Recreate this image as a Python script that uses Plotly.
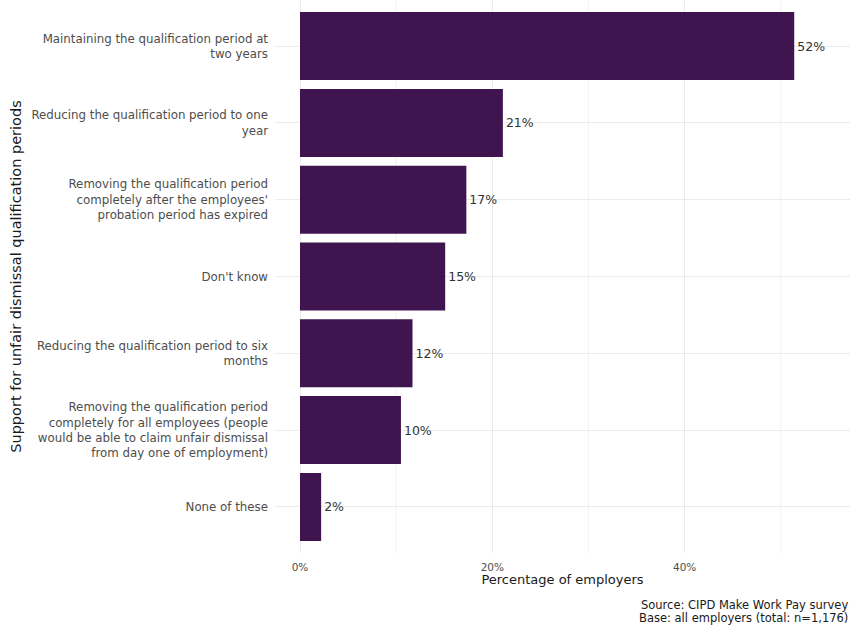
import plotly.graph_objects as go

categories = [
    "Maintaining the qualification period at<br>two years",
    "Reducing the qualification period to one<br>year",
    "Removing the qualification period<br>completely after the employees'<br>probation period has expired",
    "Don't know",
    "Reducing the qualification period to six<br>months",
    "Removing the qualification period<br>completely for all employees (people<br>would be able to claim unfair dismissal<br>from day one of employment)",
    "None of these",
]
values = [51.4, 21.1, 17.3, 15.1, 11.7, 10.5, 2.2]
value_labels = ["52%", "21%", "17%", "15%", "12%", "10%", "2%"]
x_ticks = [0, 20, 40, 60]
x_tick_labels = ["0%", "20%", "40%", "60%"]

FONT = "DejaVu Sans"

fig = go.Figure()
fig.add_trace(go.Bar(
    y=categories,
    x=values,
    orientation="h",
    marker=dict(color="#40154F", line=dict(width=0)),
    width=0.885,
    text=value_labels,
    textposition="outside",
    textfont=dict(family=FONT, size=12.5, color="#333333"),
    cliponaxis=False,
))

for v in [10, 30, 50]:
    fig.add_vline(x=v, line=dict(color="#F2F2F2", width=1), layer="below")

fig.update_layout(
    width=850, height=629,
    margin=dict(l=275, r=0, t=0, b=76),
    plot_bgcolor="white",
    paper_bgcolor="white",
    showlegend=False,
    font=dict(family=FONT, color="#4D4D4D"),
    xaxis=dict(
        range=[-2.6, 57.2],
        tickvals=x_ticks,
        ticktext=x_tick_labels,
        showgrid=True,
        gridcolor="#EBEBEB",
        zeroline=False,
        tickfont=dict(size=10.5, color="#4D4D4D"),
        ticks="",
        ticklabelstandoff=6,
        title=dict(text="Percentage of employers", font=dict(size=13, color="#1A1A1A"), standoff=2),
    ),
    yaxis=dict(
        categoryorder="array",
        categoryarray=categories,
        range=[6.6, -0.6],
        showgrid=True,
        gridcolor="#EBEBEB",
        zeroline=False,
        tickfont=dict(size=11.8, color="#4D4D4D"),
        ticks="",
        ticklabelstandoff=6,
        title=dict(text="Support for unfair dismissal qualification periods",
                   font=dict(size=14.5, color="#1A1A1A"), standoff=6),
    ),
    annotations=[
        dict(text="Source: CIPD Make Work Pay survey",
             xref="paper", yref="paper", x=1, y=0, xanchor="right", yanchor="middle",
             yshift=-52, showarrow=False,
             font=dict(family=FONT, size=11.5, color="#1A1A1A")),
        dict(text="Base: all employers (total: n=1,176)",
             xref="paper", yref="paper", x=1, y=0, xanchor="right", yanchor="middle",
             yshift=-65, showarrow=False,
             font=dict(family=FONT, size=11.5, color="#1A1A1A")),
    ],
)

fig.write_html("out.html")
